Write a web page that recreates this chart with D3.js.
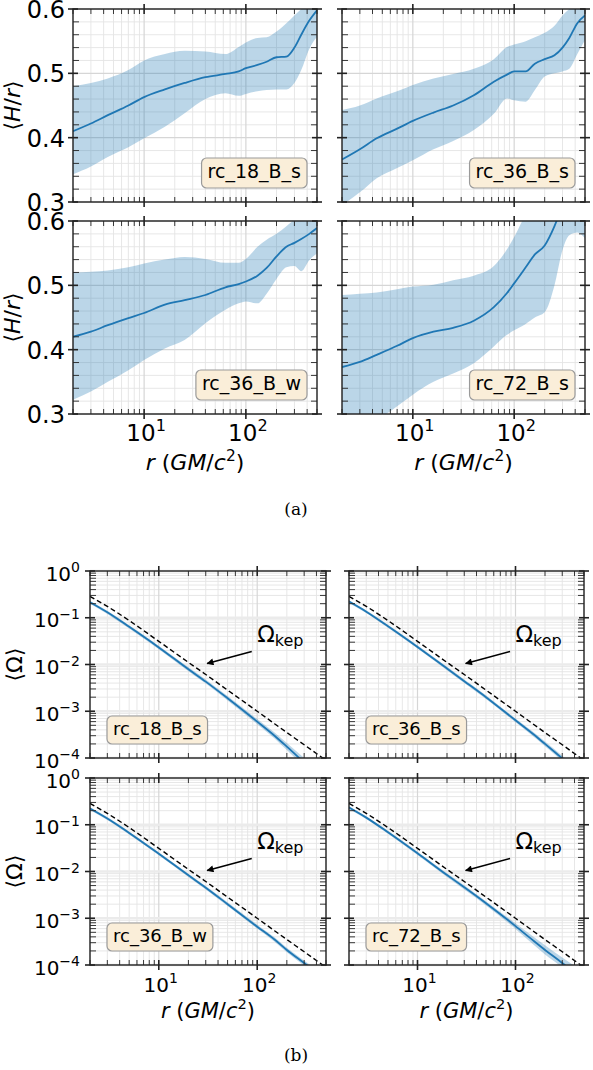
<!DOCTYPE html>
<html>
<head>
<meta charset="utf-8">
<script src="https://cdn.jsdelivr.net/npm/d3@7"></script>
<style>
  body { margin: 0; background: #fff; }
  text { font-family: "DejaVu Sans", sans-serif; fill: #000; }
</style>
</head>
<body>
<div id="chart"></div>
<script>
// ---- data: (a) scale height <H/r> ----
var radiiA = [2, 3, 4.4, 7, 10, 16, 25, 40, 63, 85, 100, 130, 160, 200, 250, 300, 350, 420, 500]

var hr18Mean = [0.410, 0.422, 0.435, 0.450, 0.463, 0.475, 0.485, 0.494, 0.499, 0.503, 0.508, 0.513, 0.518, 0.525, 0.526, 0.540, 0.560, 0.582, 0.598]
var hr18Hi   = [0.480, 0.485, 0.492, 0.505, 0.520, 0.530, 0.535, 0.534, 0.530, 0.541, 0.548, 0.555, 0.556, 0.565, 0.578, 0.590, 0.600, 0.610, 0.620]
var hr18Lo   = [0.343, 0.355, 0.370, 0.385, 0.399, 0.417, 0.438, 0.460, 0.469, 0.465, 0.468, 0.472, 0.474, 0.475, 0.475, 0.485, 0.505, 0.538, 0.557]

var hr36sMean = [0.366, 0.382, 0.399, 0.414, 0.426, 0.439, 0.450, 0.466, 0.487, 0.498, 0.503, 0.503, 0.515, 0.522, 0.528, 0.540, 0.555, 0.578, 0.590]
var hr36sHi   = [0.443, 0.450, 0.461, 0.472, 0.482, 0.492, 0.499, 0.507, 0.522, 0.541, 0.545, 0.550, 0.556, 0.563, 0.574, 0.590, 0.600, 0.610, 0.620]
var hr36sLo   = [0.295, 0.315, 0.337, 0.353, 0.365, 0.382, 0.395, 0.412, 0.437, 0.461, 0.458, 0.456, 0.474, 0.495, 0.500, 0.503, 0.507, 0.530, 0.552]

var hr36wMean = [0.420, 0.428, 0.438, 0.449, 0.457, 0.470, 0.477, 0.485, 0.497, 0.502, 0.506, 0.515, 0.527, 0.545, 0.560, 0.566, 0.572, 0.580, 0.589]
var hr36wHi   = [0.520, 0.521, 0.523, 0.528, 0.534, 0.540, 0.544, 0.541, 0.535, 0.535, 0.541, 0.560, 0.571, 0.580, 0.592, 0.602, 0.610, 0.620, 0.620]
var hr36wLo   = [0.322, 0.335, 0.350, 0.368, 0.384, 0.402, 0.415, 0.441, 0.462, 0.472, 0.475, 0.472, 0.487, 0.510, 0.528, 0.530, 0.522, 0.539, 0.550]

var hr72Mean = [0.373, 0.381, 0.392, 0.406, 0.418, 0.428, 0.434, 0.445, 0.466, 0.488, 0.503, 0.528, 0.548, 0.562, 0.592, 0.625, 0.650, 0.670, 0.690]
var hr72Hi   = [0.485, 0.487, 0.489, 0.494, 0.498, 0.501, 0.508, 0.515, 0.530, 0.556, 0.575, 0.610, 0.630, 0.650, 0.660, 0.670, 0.670, 0.670, 0.670]
var hr72Lo   = [0.260, 0.275, 0.290, 0.312, 0.330, 0.350, 0.363, 0.379, 0.405, 0.423, 0.430, 0.440, 0.450, 0.458, 0.500, 0.555, 0.578, 0.582, 0.573]

// ---- data: (b) angular velocity <Omega> ----
var radiiB = [2, 3, 5, 10, 20, 30, 50, 100, 150, 200, 300, 500]
var omegaKep = [0.285, 0.175, 0.087, 0.0313, 0.0111, 0.0061, 0.00283, 1.0e-3, 5.4e-4, 3.5e-4, 1.92e-4, 8.9e-5]

var om18Mean = [0.215, 0.131, 0.064, 0.0232, 0.0079, 0.0043, 0.00190, 6.0e-4, 3.0e-4, 1.75e-4, 8.0e-5, 3.0e-5]
var om18Hi   = [0.232, 0.141, 0.069, 0.0252, 0.0087, 0.0048, 0.00212, 6.8e-4, 3.5e-4, 2.1e-4, 1.0e-4, 4.0e-5]
var om18Lo   = [0.200, 0.121, 0.059, 0.0213, 0.0072, 0.0039, 0.00170, 5.3e-4, 2.6e-4, 1.48e-4, 6.5e-5, 2.3e-5]

var om36sMean = [0.222, 0.135, 0.066, 0.0238, 0.0082, 0.0044, 0.0020, 6.4e-4, 3.3e-4, 2.0e-4, 9.8e-5, 4.0e-5]
var om36sHi   = [0.238, 0.145, 0.071, 0.0257, 0.0089, 0.0048, 0.0022, 7.0e-4, 3.7e-4, 2.25e-4, 1.12e-4, 4.7e-5]
var om36sLo   = [0.207, 0.126, 0.061, 0.0220, 0.0075, 0.0040, 0.00182, 5.8e-4, 2.95e-4, 1.78e-4, 8.6e-5, 3.4e-5]

var om36wMean = [0.223, 0.136, 0.067, 0.0240, 0.0083, 0.0045, 0.0020, 6.6e-4, 3.5e-4, 2.1e-4, 1.1e-4, 4.8e-5]
var om36wHi   = [0.238, 0.146, 0.072, 0.0258, 0.0090, 0.0049, 0.0022, 7.3e-4, 3.9e-4, 2.35e-4, 1.25e-4, 5.5e-5]
var om36wLo   = [0.208, 0.127, 0.062, 0.0222, 0.0076, 0.0041, 0.00182, 6.0e-4, 3.15e-4, 1.88e-4, 9.7e-5, 4.1e-5]

var om72Mean = [0.234, 0.142, 0.069, 0.0245, 0.0084, 0.0046, 0.0021, 6.8e-4, 3.4e-4, 2.1e-4, 1.1e-4, 4.5e-5]
var om72Hi   = [0.250, 0.152, 0.074, 0.0265, 0.0092, 0.0051, 0.0023, 7.8e-4, 4.1e-4, 2.65e-4, 1.45e-4, 7.0e-5]
var om72Lo   = [0.218, 0.132, 0.064, 0.0226, 0.0076, 0.0041, 0.00188, 5.9e-4, 2.8e-4, 1.68e-4, 8.8e-5, 3.0e-5]

// annotation (data coords)
var kepText = [100, 0.03]
var kepArrowFrom = [88, 0.019]
var kepArrowTo = [31, 0.0105]

// ticks
var xDomain = [2, 500]
var xMajor = [10, 100]
var xMajorExp = [1, 2]
var yDomainA = [0.3, 0.6]
var yMajorA = [0.3, 0.4, 0.5, 0.6]
var yDomainB = [1e-4, 1]
var yMajorB = [1e-4, 1e-3, 1e-2, 1e-1, 1]
var yMajorBExp = [-4, -3, -2, -1, 0]

var blue = '#1f77b4'
var spine = '#222'

var svg = d3.select('#chart').append('svg')
  .attr('width', 593)
  .attr('height', 1070)

var defs = svg.append('defs')
defs.append('marker')
  .attr('id', 'arrowhead')
  .attr('viewBox', '0 0 10 10')
  .attr('refX', 9).attr('refY', 5)
  .attr('markerWidth', 9).attr('markerHeight', 7)
  .attr('markerUnits', 'userSpaceOnUse')
  .attr('orient', 'auto')
  .append('path')
  .attr('d', 'M0,0 L10,5 L0,10 Z')
  .style('fill', '#000')

var clipId = 0

function sciText(g, exp, x, y, size, anchor) {
  var t = g.append('text')
    .attr('x', x).attr('y', y)
    .style('font-size', size + 'px')
    .style('text-anchor', anchor)
  t.append('tspan').text('10')
  t.append('tspan')
    .attr('dy', -0.42 * size)
    .style('font-size', (size * 0.7) + 'px')
    .text(exp < 0 ? '\u2212' + (-exp) : exp)
  return t
}

function rLabel(g, cx, y, size) {
  var t = g.append('text')
    .attr('x', cx).attr('y', y)
    .style('font-size', size + 'px')
    .style('text-anchor', 'middle')
  t.append('tspan').style('font-style', 'italic').text('r')
  t.append('tspan').text(' (')
  t.append('tspan').style('font-style', 'italic').text('GM')
  t.append('tspan').text('/')
  t.append('tspan').style('font-style', 'italic').text('c')
  t.append('tspan').attr('dy', -0.42 * size).style('font-size', (size * 0.7) + 'px').text('2')
  t.append('tspan').attr('dy', 0.42 * size).text(')')
}

function drawPanel(p, log) {
  var g = svg.append('g')
  var x = d3.scaleLog().domain(xDomain).range([p.x, p.x + p.w])
  var y = (log ? d3.scaleLog().domain(yDomainB) : d3.scaleLinear().domain(yDomainA))
    .range([p.y + p.h, p.y])

  var xMinor = x.ticks().filter(v => xMajor.indexOf(v) < 0)
  var yMajor = log ? yMajorB : yMajorA
  var yMinor = log
    ? y.ticks().filter(v => yMajorB.indexOf(v) < 0)
    : d3.range(0.32, 0.6, 0.02).filter(v => Math.abs(v * 10 - Math.round(v * 10)) > 1e-6)

  // grid
  var grid = g.append('g')
  grid.selectAll('.gxm').data(xMinor).enter().append('line')
    .attr('x1', d => x(d)).attr('x2', d => x(d))
    .attr('y1', p.y).attr('y2', p.y + p.h)
    .style('stroke', '#e4e4e4').style('stroke-width', 0.9)
  grid.selectAll('.gym').data(yMinor).enter().append('line')
    .attr('y1', d => y(d)).attr('y2', d => y(d))
    .attr('x1', p.x).attr('x2', p.x + p.w)
    .style('stroke', '#e4e4e4').style('stroke-width', 0.9)
  grid.selectAll('.gxM').data(xMajor).enter().append('line')
    .attr('x1', d => x(d)).attr('x2', d => x(d))
    .attr('y1', p.y).attr('y2', p.y + p.h)
    .style('stroke', '#d6d6d6').style('stroke-width', 1.2)
  grid.selectAll('.gyM').data(yMajor).enter().append('line')
    .attr('y1', d => y(d)).attr('y2', d => y(d))
    .attr('x1', p.x).attr('x2', p.x + p.w)
    .style('stroke', log ? '#ebebeb' : '#d6d6d6').style('stroke-width', log ? 2.5 : 1.2)

  // data, clipped to the axes
  var id = 'clip' + (clipId++)
  defs.append('clipPath').attr('id', id)
    .append('rect').attr('x', p.x).attr('y', p.y).attr('width', p.w).attr('height', p.h)
  var gd = g.append('g').attr('clip-path', 'url(#' + id + ')')

  var radii = log ? radiiB : radiiA
  var rows = radii.map((r, i) => ({r: r, mean: p.mean[i], lo: p.lo[i], hi: p.hi[i]}))

  gd.append('path')
    .datum(rows)
    .attr('d', d3.area().curve(d3.curveMonotoneX)
      .x(d => x(d.r)).y0(d => y(d.lo)).y1(d => y(d.hi)))
    .style('fill', blue).style('fill-opacity', 0.3)

  gd.append('path')
    .datum(rows)
    .attr('d', d3.line().curve(d3.curveMonotoneX).x(d => x(d.r)).y(d => y(d.mean)))
    .style('fill', 'none').style('stroke', blue).style('stroke-width', 1.8)

  if (log) {
    gd.append('path')
      .datum(radii.map((r, i) => [r, omegaKep[i]]))
      .attr('d', d3.line().curve(d3.curveMonotoneX).x(d => x(d[0])).y(d => y(d[1])))
      .style('fill', 'none').style('stroke', '#000').style('stroke-width', 1.4)
      .style('stroke-dasharray', '5,3')
  }

  // spines
  g.append('rect')
    .attr('x', p.x).attr('y', p.y).attr('width', p.w).attr('height', p.h)
    .style('fill', 'none').style('stroke', spine).style('stroke-width', 1.4)

  // ticks: major in+out, minor in
  var tk = g.append('g').style('stroke', spine)
  xMajor.forEach(v => {
    tk.append('line').attr('x1', x(v)).attr('x2', x(v)).attr('y1', p.y - 5).attr('y2', p.y + 5).style('stroke-width', 1.6)
    tk.append('line').attr('x1', x(v)).attr('x2', x(v)).attr('y1', p.y + p.h - 5).attr('y2', p.y + p.h + 5).style('stroke-width', 1.6)
  })
  xMinor.forEach(v => {
    tk.append('line').attr('x1', x(v)).attr('x2', x(v)).attr('y1', p.y).attr('y2', p.y + 5).style('stroke-width', 0.9)
    tk.append('line').attr('x1', x(v)).attr('x2', x(v)).attr('y1', p.y + p.h - 5).attr('y2', p.y + p.h).style('stroke-width', 0.9)
  })
  yMajor.forEach(v => {
    tk.append('line').attr('y1', y(v)).attr('y2', y(v)).attr('x1', p.x - 5).attr('x2', p.x + 5).style('stroke-width', 1.6)
    tk.append('line').attr('y1', y(v)).attr('y2', y(v)).attr('x1', p.x + p.w - 5).attr('x2', p.x + p.w + 5).style('stroke-width', 1.6)
  })
  yMinor.forEach(v => {
    tk.append('line').attr('y1', y(v)).attr('y2', y(v)).attr('x1', p.x).attr('x2', p.x + 6).style('stroke-width', 0.9)
    tk.append('line').attr('y1', y(v)).attr('y2', y(v)).attr('x1', p.x + p.w - 6).attr('x2', p.x + p.w).style('stroke-width', 0.9)
  })

  // tick labels
  if (p.left) {
    if (log) {
      yMajorB.forEach((v, i) => sciText(g, yMajorBExp[i], p.x - 10, y(v) + 9.5, 20, 'end'))
      var yl = g.append('text')
        .attr('transform', 'translate(' + [22, p.y + p.h / 2] + ') rotate(-90)')
        .style('font-size', '22px').style('text-anchor', 'middle')
      yl.append('tspan').text('\u27e8\u03a9\u27e9')
    } else {
      yMajorA.forEach(v => g.append('text')
        .attr('x', p.x - 8).attr('y', y(v) + 9)
        .style('font-size', '24px').style('text-anchor', 'end')
        .text(d3.format('.1f')(v)))
      var yl = g.append('text')
        .attr('transform', 'translate(' + [20, p.y + p.h / 2] + ') rotate(-90)')
        .style('font-size', '22px').style('text-anchor', 'middle')
      yl.append('tspan').text('\u27e8')
      yl.append('tspan').style('font-style', 'italic').text('H')
      yl.append('tspan').text('/')
      yl.append('tspan').style('font-style', 'italic').text('r')
      yl.append('tspan').text('\u27e9')
    }
  }
  if (p.bottom) {
    var fs = log ? 20 : 23
    var base = log ? 991.5 : 441
    xMajor.forEach((v, i) => sciText(g, xMajorExp[i], x(v) + 2, base, fs, 'middle'))
    rLabel(g, p.x + p.w / 2, log ? 1018 : 470, log ? 21 : 22)
  }

  // run label box
  var fsL = log ? 18 : 19
  var bh = log ? 28 : 30
  var boxBottom = p.y + p.h - 14
  var lt = g.append('text')
    .attr('y', boxBottom - (log ? 9 : 9.7))
    .style('font-size', fsL + 'px')
    .text(p.name)
  if (log) {
    lt.attr('x', p.x + 17 + 6)
  } else {
    lt.attr('x', p.x + p.w - 10 - 6).style('text-anchor', 'end')
  }
  var bb = lt.node().getBBox()
  g.insert('rect', function() { return lt.node() })
    .attr('x', bb.x - 6).attr('width', bb.width + 12)
    .attr('y', boxBottom - bh).attr('height', bh)
    .attr('rx', 5).attr('ry', 5)
    .style('fill', '#faeed9').style('stroke', '#9a9a9a').style('stroke-width', 1.2)

  // Omega_kep annotation
  if (log) {
    g.append('line')
      .attr('x1', x(kepArrowFrom[0])).attr('y1', y(kepArrowFrom[1]))
      .attr('x2', x(kepArrowTo[0])).attr('y2', y(kepArrowTo[1]))
      .style('stroke', '#000').style('stroke-width', 1.6)
      .attr('marker-end', 'url(#arrowhead)')
    var kt = g.append('text')
      .attr('x', x(kepText[0])).attr('y', y(kepText[1]))
      .style('font-size', '23px')
    kt.append('tspan').text('\u03a9')
    kt.append('tspan').attr('dy', 4).style('font-size', '16px').text('kep')
  }
}

var panelsA = [
  {x: 73, y: 9, w: 244, h: 193, name: 'rc_18_B_s', mean: hr18Mean, lo: hr18Lo, hi: hr18Hi, left: true, bottom: false},
  {x: 342, y: 9, w: 243, h: 193, name: 'rc_36_B_s', mean: hr36sMean, lo: hr36sLo, hi: hr36sHi, left: false, bottom: false},
  {x: 73, y: 221, w: 244, h: 193, name: 'rc_36_B_w', mean: hr36wMean, lo: hr36wLo, hi: hr36wHi, left: true, bottom: true},
  {x: 342, y: 221, w: 243, h: 193, name: 'rc_72_B_s', mean: hr72Mean, lo: hr72Lo, hi: hr72Hi, left: false, bottom: true}
]
var panelsB = [
  {x: 90, y: 571, w: 236, h: 187, name: 'rc_18_B_s', mean: om18Mean, lo: om18Lo, hi: om18Hi, left: true, bottom: false},
  {x: 349, y: 571, w: 235, h: 187, name: 'rc_36_B_s', mean: om36sMean, lo: om36sLo, hi: om36sHi, left: false, bottom: false},
  {x: 90, y: 778, w: 236, h: 187, name: 'rc_36_B_w', mean: om36wMean, lo: om36wLo, hi: om36wHi, left: true, bottom: true},
  {x: 349, y: 778, w: 235, h: 187, name: 'rc_72_B_s', mean: om72Mean, lo: om72Lo, hi: om72Hi, left: false, bottom: true}
]

panelsA.forEach(p => drawPanel(p, false))
panelsB.forEach(p => drawPanel(p, true))

svg.append('text')
  .attr('x', 296).attr('y', 515)
  .style('font-family', '"DejaVu Serif", serif').style('font-size', '17px')
  .style('text-anchor', 'middle')
  .text('(a)')
svg.append('text')
  .attr('x', 296).attr('y', 1061)
  .style('font-family', '"DejaVu Serif", serif').style('font-size', '17px')
  .style('text-anchor', 'middle')
  .text('(b)')
</script>
</body>
</html>
